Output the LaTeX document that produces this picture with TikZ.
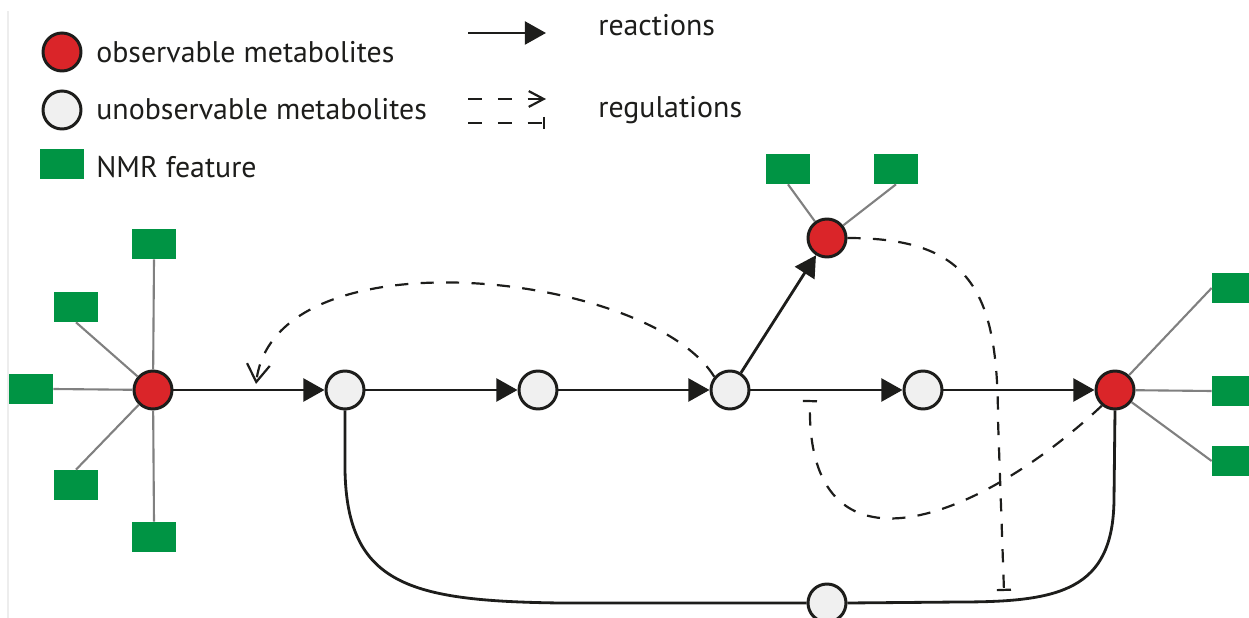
\documentclass[tikz,border=0pt]{standalone}
\usepackage{fontspec}
\setmainfont{PT Sans}
\usepackage{tikz}
\usetikzlibrary{arrows.meta}
\definecolor{obsred}{RGB}{218,37,41}
\definecolor{unobsgray}{RGB}{240,240,240}
\definecolor{nmrgreen}{RGB}{0,148,68}
\definecolor{ink}{RGB}{29,29,27}
\tikzset{
	obs/.style={circle,draw=ink,line width=1.7pt,fill=obsred,minimum size=0.76cm,inner sep=0pt},
	unobs/.style={circle,draw=ink,line width=1.7pt,fill=unobsgray,minimum size=0.76cm,inner sep=0pt},
	nmr/.style={rectangle,fill=nmrgreen,minimum width=0.88cm,minimum height=0.6cm,inner sep=0pt},
	react/.style={draw=ink,line width=1.6pt,-{Triangle[length=12pt,width=13pt]}},
	regul/.style={draw=ink,line width=1.25pt,dash pattern=on 7.5pt off 7pt},
	link/.style={draw=black!50,line width=1.2pt},
	txt/.style={anchor=base west,font=\fontsize{17}{20}\selectfont,text=ink,inner sep=0pt}
}
\newcommand{\nmrlinks}[2]{
	\foreach \f in {#2} \draw [link] (#1)--(\f);
}

\begin{document}
\begin{tikzpicture}[x=0.02cm,y=-0.02cm]
\clip (0,0) rectangle (1249,618);
\draw [black!7,line width=0.6pt] (8,11)--(8,618);

\node [obs]	(LA)	at (62,52) {};
\node [unobs]	(LB)	at (62,110) {};
\node [nmr]	(LC)	at (62,164) {};
\node [txt]	at (96,63) {observable metabolites};
\node [txt]	at (96,120) {unobservable metabolites};
\node [txt]	at (96,178) {NMR feature};
\node [txt]	at (598,36) {reactions};
\node [txt]	at (598,118) {regulations};
\coordinate (L1) at (468,33);
\coordinate (L2) at (546,33);
\coordinate (L3) at (468,99);
\coordinate (L4) at (546,99);
\coordinate (L5) at (468,123);
\coordinate (L6) at (545,123);
\draw [react] (L1)--(L2);
\draw [regul,dash pattern=on 8pt off 9pt,-{Straight Barb[length=8.5pt,width=9pt]}] (L3)--(L4);
\draw [regul,dash pattern=on 8pt off 9pt,-{Bar[width=7pt]}] (L5)--(L6);

\node [obs]	(A)	at (153,390) {};
\node [unobs]	(B)	at (345,390) {};
\node [unobs]	(C)	at (538,390) {};
\node [unobs]	(D)	at (730,390) {};
\node [unobs]	(E)	at (923,390) {};
\node [obs]	(F)	at (1115,390) {};
\node [obs]	(G)	at (827,238) {};
\node [unobs]	(H)	at (827,603) {};

\node [nmr]	(A1)	at (154,244) {};
\node [nmr]	(A2)	at (76,307) {};
\node [nmr]	(A3)	at (31,389) {};
\node [nmr]	(A4)	at (76,485) {};
\node [nmr]	(A5)	at (154,537) {};
\node [nmr]	(G1)	at (788,169) {};
\node [nmr]	(G2)	at (896,169) {};
\node [nmr]	(F1)	at (1234,288) {};
\node [nmr]	(F2)	at (1234,391) {};
\node [nmr]	(F3)	at (1234,461) {};

\nmrlinks {A}{A1.south,A2.south,A3.east,A4.north,A5.north};
\nmrlinks {G}{G1.south,G2.south};
\nmrlinks {F}{F1.west,F2.west,F3.west};

\draw [react] (A)--(B);
\draw [react] (B)--(C);
\draw [react] (C)--(D);
\draw [react] (D)--(E);
\draw [react] (E)--(F);
\draw [react] (D)--(G);
\draw [draw=ink,line width=1.6pt] (B.south)--(345,470) .. controls (347,585) and (410,601) .. (560,603)--(H.west);
\draw [draw=ink,line width=1.6pt] (H.east)--(960,602) .. controls (1060,602) and (1113,590) .. (1114,500)--(F.south);

\coordinate (P) at (256,384);
\coordinate (Q) at (1004,591);
\coordinate (S) at (810,400);
\draw [regul,-{Straight Barb[length=10pt,width=13pt]}] (D.140) .. controls (650,272) and (275,230) .. (P);
\draw [regul,-{Bar[width=8pt]}] (G.east) .. controls (970,238) and (998,290) .. (998,420)--(Q);
\draw [regul,-{Bar[width=8pt]}] (F.230) .. controls (980,520) and (805,590) .. (S);
\end{tikzpicture}
\end{document}
